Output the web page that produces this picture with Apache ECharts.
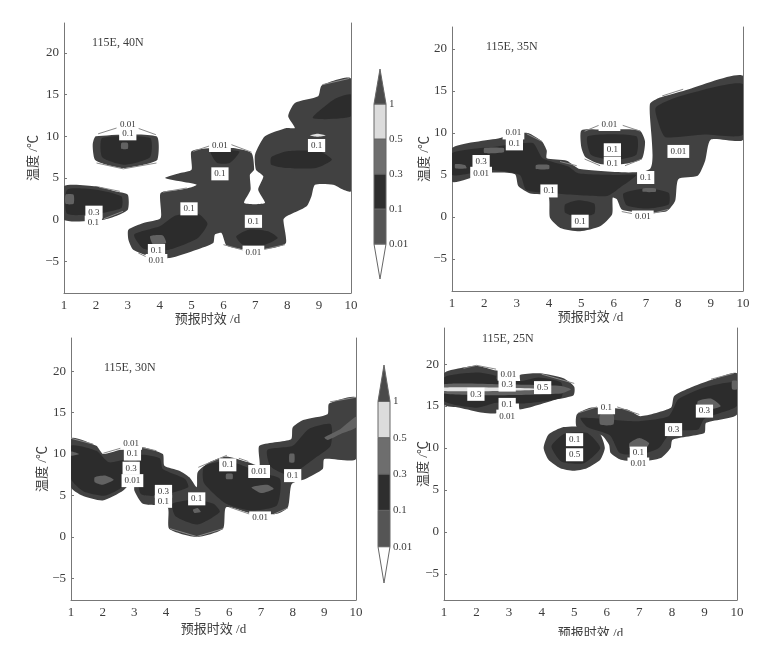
<!DOCTYPE html>
<html>
<head>
<meta charset="utf-8">
<script src="https://cdn.jsdelivr.net/npm/echarts@6/dist/echarts.min.js"></script>
<style>
  html, body { margin: 0; background: #fff; }
  #chart { width: 759px; height: 636px; filter: blur(0.7px); }
</style>
</head>
<body>
<div id="chart"></div>
<script>
const days = [1, 2, 3, 4, 5, 6, 7, 8, 9, 10]
const tempTicks = [-5, 0, 5, 10, 15, 20]
const barLevels = ['0.01', '0.1', '0.3', '0.5', '1']
const barTicks = [1, 2, 3, 4, 5]

// outlines are [day, temperature]
// 115E, 40N
const p40Base = [
  [[1,4],[2,4],[2.6,3.4],[3,3],[3,1.2],[2.6,0.4],[2.25,0],[1,0]],
  [[2,10],[3.9,10],[3.93,7.2],[3.49,6.6],[2.86,6.2],[2.34,6.6],[1.97,7.2],[1.9,9]],
  [[3.02,-1.2],[3.49,-0.4],[4.03,0.2],[4.03,3.2],[4.64,3.6],[5,3.9],[5.16,4.2],[4.64,4.6],[4.17,5],[4.64,5.6],[5,6],[5,8.2],[5.68,8.6],[6.31,8.6],[6.88,8],[6.96,6],[6.83,5.4],[6.85,3.6],[6.65,2],[7.3,2],[7.09,3.6],[7.25,5.2],[7.02,6],[6.99,7.8],[7.3,10],[7.98,11],[8.24,11],[8.03,12.4],[8.24,14],[8.97,14.8],[9.08,16.1],[10,16.9],[10,3.4],[9.76,3.6],[9.44,4.2],[8.87,4.2],[8.76,2.8],[8.61,1.6],[7.98,0.4],[7.88,0],[7.96,-2.8],[7.56,-3.4],[6.73,-3.6],[6.1,-3.1],[5.94,-1.6],[5.73,-1.8],[5.68,-2.8],[5.16,-3.6],[4.32,-4.6],[3.7,-4.4],[3.17,-3.6],[3.02,-2.4]]
]
const p40Dark = [
  [[1.1,3.6],[2,3.6],[2.8,2.8],[2.8,1.4],[2,0.7],[1.1,0.7]],
  [[2.2,9.8],[3.7,9.8],[3.7,7.5],[2.9,6.6],[2.2,7.5]],
  [[3.2,-1.8],[4,-0.8],[4.5,0.5],[5.2,0.7],[5.5,-0.5],[5.2,-2.2],[4.3,-3.6],[3.5,-3.5]],
  [[6.4,-2],[6.8,-1.2],[7.4,-1.4],[7.7,-2.2],[7.3,-3],[6.6,-3]],
  [[5.6,8.2],[6.5,8.2],[6.2,6.8],[5.8,6.8]],
  [[7.5,7.5],[8,8.2],[9,8.2],[9.4,7.2],[8.9,6.2],[8,6.2],[7.5,6.6]],
  [[8.8,12.2],[9.5,14.5],[10,15],[10,12.4]]
]
const p40Mid = [
  [[1.05,3],[1.3,3],[1.3,1.9],[1.05,1.9]],
  [[3.7,-2],[4.1,-1.9],[4.2,-2.8],[3.8,-3]],
  [[2.8,9.2],[3,9.2],[3,8.5],[2.8,8.5]]
]
const p40Light = [
  [[8.72,10.1],[8.95,10.3],[9.2,10.1],[8.95,9.95]]
]
const p40Arcs = [
  [[2.07,10.3],[2.65,11]], [[3.3,11],[3.88,10.2]], [[2.02,6.8],[2.86,6.1],[3.9,6.8]],
  [[2.1,3.9],[2.75,3.4]], [[2.25,0.1],[2.85,1]], [[3.33,-4],[3.6,-4.5]],
  [[5.05,8.2],[5.6,8.9]], [[6.25,9],[6.88,8.1]], [[4.1,3.3],[4.85,3.8]],
  [[6,-3],[6.67,-3.7]], [[7.25,-3.6],[7.93,-3]], [[9.1,16.2],[9.95,16.95]]
]
const p40Labels = [
  [3,11.4,'0.01'],[3,10.3,'0.1'],[5.89,8.9,'0.01'],[5.89,5.5,'0.1'],[4.92,1.3,'0.1'],[6.94,-0.2,'0.1'],
  [6.94,-3.9,'0.01'],[8.92,8.9,'0.1'],[1.94,0.9,'0.3'],[1.92,-0.3,'0.1'],[3.9,-3.7,'0.1'],[3.9,-4.9,'0.01']
]

// 115E, 35N
const p35Base = [
  [[1,8.2],[2.49,9.4],[2.8,9.9],[3.35,10],[3.78,9],[3.93,7.9],[3.93,7],[4.55,6.7],[4.96,5.7],[7.12,5.7],[7.12,13.4],[7.43,14.2],[8.15,15],[10,16.8],[10,9.2],[9,9.2],[8.83,6.7],[8.6,4.9],[8,4.5],[7.9,1.9],[7.64,0.7],[6.92,0.5],[6.25,0.9],[6.1,2.1],[5.97,2.3],[5.95,0.3],[5.58,-1.1],[4.96,-1.7],[4.35,-1.3],[4.03,-0.1],[3.98,2.5],[3.42,2.8],[3.05,3.7],[2.95,5.1],[2.29,5.3],[1.87,5],[1,4.2]],
  [[5,10.3],[5.6,10.4],[6.8,10.3],[6.97,9],[6.87,6.9],[6.3,6.3],[5.58,6.3],[5.13,7.1],[5,8.3]]
]
const p35Dark = [
  [[1,7.6],[2.4,8.4],[3.5,8.8],[3.8,7],[4.6,6],[4.9,5.2],[6,5],[6.7,5],[6.2,3.5],[5.8,2.5],[4.2,2.8],[3.3,3.2],[3.1,5],[2.2,5.6],[1,5]],
  [[7.3,13],[8,14.3],[10,15.8],[10,9.8],[8.8,9.8],[7.6,9.5],[7.4,11]],
  [[4.5,1.5],[4.9,2],[5.4,1.6],[5.4,0.4],[4.9,0],[4.5,0.5]],
  [[6.3,2.8],[7,3.4],[7.7,2.9],[7.7,1.5],[7,1],[6.4,1.4]],
  [[5.2,9.6],[6.7,9.6],[6.7,7.4],[6,6.8],[5.3,7.4]]
]
const p35Mid = [
  [[1.1,6.3],[1.4,6.2],[1.45,5.8],[1.1,5.8]],
  [[2,8.2],[2.6,8.2],[2.6,7.7],[2,7.6]],
  [[3.6,6.2],[4,6.2],[4,5.7],[3.6,5.7]],
  [[6.9,3.4],[7.3,3.4],[7.3,3],[6.9,3]]
]
const p35Light = []
const p35Arcs = [
  [[5.1,10.2],[5.6,11]], [[6.28,10.9],[6.83,10.2]], [[5.1,6.9],[5.58,6.1]], [[6.35,6.1],[6.87,6.9]],
  [[6.25,0.65],[6.7,0.3]], [[7.17,0.4],[7.69,0.9]], [[3.31,9.9],[3.78,9]], [[4.34,6.6],[4.86,6.1]], [[7.5,14.4],[8.15,15.2]]
]
const p35Labels = [
  [2.9,10,'0.01'],[2.93,8.7,'0.1'],[1.9,6.6,'0.3'],[1.9,5.2,'0.01'],[4,3.1,'0.1'],[4.96,-0.5,'0.1'],
  [5.87,11,'0.01'],[5.96,8,'0.1'],[5.96,6.4,'0.1'],[6.99,4.7,'0.1'],[6.9,0,'0.01'],[8,7.8,'0.01']
]

// 115E, 30N
const p30Base = [
  [[1,11.9],[1.8,11],[2.02,10],[2.65,10.6],[3.3,10.8],[3.9,10],[3.95,8.6],[4.42,8],[4.74,7.2],[4.97,6],[5,7.8],[5.37,9],[5.9,9.7],[6.6,9],[6.95,8.6],[6.95,11],[7.95,11.8],[8,13.2],[8.33,14.1],[9.1,14.8],[9.15,16.1],[10,16.8],[10,9.4],[9,9.4],[8.95,8.2],[8.4,7],[7.97,6.4],[7.85,3.6],[7.5,2.8],[6.75,2.8],[5.9,3.6],[5.8,1],[4.97,0],[4.1,1],[4.05,3.6],[3.27,4],[3,5.6],[3,7],[2.65,5.6],[2,4.4],[1.35,5],[1,6]]
]
const p30Dark = [
  [[1,11],[1.8,10.4],[2.2,9],[2.8,9.3],[2.8,6.6],[2.1,5],[1.4,5.5],[1,7]],
  [[3.1,9.8],[3.8,9.5],[3.9,8.2],[4.6,7],[4.7,6],[3.8,5],[3.2,5.2]],
  [[4.2,4],[4.9,4.5],[5.5,4],[5.7,3],[5,1.5],[4.3,2.5]],
  [[5.2,8.5],[5.9,9.2],[6.5,8.5],[6.9,7.8],[7.6,7],[7.5,3.8],[6.7,3.2],[5.9,4],[5.2,6.5]],
  [[7.2,10.5],[8,11],[8.5,13],[9.2,13.6],[9.2,11],[8.7,9.5],[7.9,7.5],[7.3,8.5]]
]
const p30Mid = [
  [[1.75,7.2],[2.1,7.4],[2.35,6.9],[2,6.3],[1.75,6.6]],
  [[1,10.3],[1.25,10],[1,9.8]],
  [[4.85,3.3],[5,3.5],[5.1,3],[4.9,2.9]],
  [[5.9,7.6],[6.1,7.6],[6.1,7],[5.9,7]],
  [[6.7,6],[7.2,6.3],[7.4,5.8],[7,5.3]],
  [[9,12],[9.5,13],[10,14.5],[10,13.2],[9.5,12.4],[9.1,11.7]],
  [[7.9,10],[8.05,10],[8.05,9],[7.9,9]]
]
const p30Light = []
const p30Arcs = [
  [[2.02,10.1],[2.65,10.8]], [[3.23,10.8],[3.7,10.4]], [[1,11.9],[1.7,11.2]],
  [[4.13,1],[4.97,0.05],[5.8,1]], [[5.02,8.4],[5.92,9.85]], [[6.3,9.5],[6.6,9.1]],
  [[6,3.6],[6.65,2.75]], [[7.4,2.75],[7.85,3.5]], [[9.18,16.3],[10,16.85]]
]
const p30Labels = [
  [2.9,11.3,'0.01'],[2.94,10,'0.1'],[2.9,8.3,'0.3'],[2.94,6.8,'0.01'],[3.92,5.5,'0.3'],[3.92,4.3,'0.1'],
  [4.97,4.6,'0.1'],[5.95,8.7,'0.1'],[6.94,7.9,'0.01'],[8,7.4,'0.1'],[6.97,2.3,'0.01']
]

// 115E, 25N
const p25Base = [
  [[1,18.9],[1.48,19.5],[2,19.8],[2.52,19.3],[2.72,19.1],[2.72,17.9],[3.33,17.9],[3.33,18.7],[3.95,18.9],[4.67,18.3],[5,17.3],[4.98,16.3],[4.47,15.8],[3.33,14.6],[3.28,15.8],[2.72,15.8],[2.67,14.2],[2.2,14.2],[1.48,14.8],[1,15.2]],
  [[5.08,14],[5.5,14.8],[6.63,14.6],[7.04,13.8],[7.97,14.8],[8.07,16.2],[8.58,17.2],[9.2,18.1],[10,18.9],[10,14],[9.05,13],[9,11.8],[8.02,11],[7.96,10],[7.66,8.8],[7.05,8.4],[6.43,8.6],[6.12,9.4],[6.07,10.4],[5.85,11.5],[5.08,12.5]],
  [[4.06,10],[4.21,11.6],[4.67,12.5],[5.39,12.5],[5.8,11.6],[5.94,10],[5.8,8.6],[5.39,7.6],[4.98,7.3],[4.57,7.6],[4.21,8.6]]
]
const p25Dark = [
  [[1,18.4],[2,19],[2.6,18.6],[2.6,18.2],[3.4,18],[3.9,18.4],[4.6,17.8],[4.6,16],[3.4,15.3],[2.6,15.4],[2,14.8],[1,15.6]],
  [[4.3,10.2],[4.7,11.7],[5.4,11.8],[5.8,10],[5.3,8.2],[4.6,8.4]],
  [[5.2,13.6],[6.9,13.2],[7.9,13.8],[8.2,15.8],[9,17.2],[10,17.8],[10,15],[9,13.5],[8.8,12.2],[8,12],[7.6,10],[7,9.2],[6.4,9.4],[6.1,11.5],[5.4,12.5]]
]
const p25Mid = [
  [[1,17.6],[2.7,17.6],[4.6,17.4],[4.9,17],[4.6,16.5],[2.7,16.3],[1,16.5]],
  [[5.8,14],[6.2,14],[6.2,12.8],[5.8,12.8]],
  [[6.7,10.6],[7,11.2],[7.3,10.6],[7.2,10],[6.7,10]],
  [[8.8,15.6],[9.2,15.9],[9.5,15],[9.2,14.6],[8.8,14.6]],
  [[9.85,18],[10,18],[10,17],[9.85,17]]
]
const p25Light = [
  [[1,17.2],[2.7,17.2],[4.3,17],[2.7,16.8],[1,16.8]]
]
const p25Arcs = [
  [[5.13,14.2],[5.7,14.9]], [[6.32,14.9],[7,14]], [[4,18.8],[5,17.7]],
  [[1.6,19.5],[2,19.85],[2.6,19.4]], [[9.2,18.2],[9.9,18.9]]
]
const p25Labels = [
  [2.98,18.8,'0.01'],[2.94,17.5,'0.3'],[2.94,15.2,'0.1'],[2.94,13.8,'0.01'],[1.98,16.4,'0.3'],[4.03,17.2,'0.5'],
  [5.99,14.8,'0.1'],[5.01,11,'0.1'],[5.01,9.2,'0.5'],[6.97,9.4,'0.1'],[6.97,8.1,'0.01'],[8.05,12.2,'0.3'],[9,14.4,'0.3']
]

const baseColor = '#414141'
const darkColor = '#2c2c2c'
const midColor = '#626262'
const lightColor = '#e2e2e2'
const arcColor = '#8a8a8a'
const textColor = '#3c3c3c'
const serif = '"Liberation Serif", "Noto Sans CJK SC", serif'

// colour bar, bottom to top: lower tip, 0.01-0.1, 0.1-0.3, 0.3-0.5, 0.5-1, upper tip
const barColors = ['#fff', '#555', '#2e2e2e', '#6e6e6e', '#dcdcdc', '#4a4a4a']
const barShapes = [
  [[0.5,0],[0,1],[1,1]],
  [[0,1],[0,2],[1,2],[1,1]],
  [[0,2],[0,3],[1,3],[1,2]],
  [[0,3],[0,4],[1,4],[1,3]],
  [[0,4],[0,5],[1,5],[1,4]],
  [[0,5],[0.5,6],[1,5]]
]

const panels = [
  { title: '115E, 40N', titleX: 92, titleY: 37, left: 64, right: 351, top: 23, bottom: 293, min: -8.8, max: 23.6, yGap: 24, xGap: 18, xPad: 0,
    base: p40Base, dark: p40Dark, mid: p40Mid, light: p40Light, arcs: p40Arcs, labels: p40Labels },
  { title: '115E, 35N', titleX: 486, titleY: 41, left: 452, right: 743, top: 27, bottom: 291, min: -8.8, max: 22.6, yGap: 21, xGap: 16, xPad: 14,
    base: p35Base, dark: p35Dark, mid: p35Mid, light: p35Light, arcs: p35Arcs, labels: p35Labels },
  { title: '115E, 30N', titleX: 104, titleY: 362, left: 71, right: 356, top: 338, bottom: 600, min: -7.6, max: 24, yGap: 22, xGap: 23, xPad: 0,
    base: p30Base, dark: p30Dark, mid: p30Mid, light: p30Light, arcs: p30Arcs, labels: p30Labels },
  { title: '115E, 25N', titleX: 482, titleY: 333, left: 444, right: 737, top: 328, bottom: 600, min: -8.1, max: 24.3, yGap: 14, xGap: 27, xPad: 0,
    base: p25Base, dark: p25Dark, mid: p25Mid, light: p25Light, arcs: p25Arcs, labels: p25Labels }
]

const grids = []
const xAxes = []
const yAxes = []
const titles = []
const series = []

const polygonSeries = (polys, color, xi, yi) => ({
  type: 'custom',
  xAxisIndex: xi,
  yAxisIndex: yi,
  silent: true,
  clip: true,
  data: polys.map(p => p[0]),
  encode: { x: 0, y: 1 },
  renderItem: (params, api) => ({
    type: 'polygon',
    shape: { points: polys[params.dataIndex].map(p => api.coord(p)), smooth: 0.2 },
    style: { fill: color }
  })
})

panels.forEach((p) => {
  const xi = xAxes.length
  const yi = yAxes.length
  grids.push({ left: p.left, top: p.top, width: p.right - p.left, height: p.bottom - p.top, outerBoundsMode: 'none' })
  titles.push({
    text: p.title, left: p.titleX, top: p.titleY, padding: 0,
    textStyle: { fontFamily: serif, fontSize: 12, fontWeight: 'normal', color: textColor }
  })
  xAxes.push({
    type: 'value', gridIndex: grids.length - 1, min: days[0], max: days[days.length - 1], interval: 1,
    name: '预报时效 /d', nameLocation: 'middle', nameGap: p.xGap,
    nameTextStyle: { fontFamily: serif, fontSize: 13, color: textColor, padding: [0, p.xPad, 0, 0] },
    axisLine: { onZero: false, lineStyle: { color: '#777' } },
    axisTick: { show: false },
    axisLabel: { fontFamily: serif, fontSize: 13, color: textColor, margin: 6 },
    splitLine: { show: false }
  })
  yAxes.push({
    type: 'value', gridIndex: grids.length - 1, min: p.min, max: p.max,
    name: '温度 /℃', nameLocation: 'middle', nameGap: p.yGap, nameRotate: 90, nameMoveOverlap: false,
    nameTextStyle: { fontFamily: serif, fontSize: 13, color: textColor },
    axisLine: { show: true, onZero: false, lineStyle: { color: '#777' } },
    axisTick: { show: true, inside: true, length: 3, customValues: tempTicks, lineStyle: { color: '#777' } },
    axisLabel: { customValues: tempTicks, fontFamily: serif, fontSize: 13, color: textColor, margin: 5,
      formatter: v => String(v).replace('-', '−') },
    splitLine: { show: false }
  })
  // frame line on the right hand side
  yAxes.push({
    type: 'value', gridIndex: grids.length - 1, position: 'right', min: p.min, max: p.max,
    axisLine: { show: true, onZero: false, lineStyle: { color: '#777' } },
    axisTick: { show: false }, axisLabel: { show: false }, splitLine: { show: false }
  })

  series.push(polygonSeries(p.base, baseColor, xi, yi))
  series.push(polygonSeries(p.dark, darkColor, xi, yi))
  series.push(polygonSeries(p.mid, midColor, xi, yi))
  series.push(polygonSeries(p.light, lightColor, xi, yi))
  series.push({
    type: 'custom', xAxisIndex: xi, yAxisIndex: yi, silent: true, clip: false,
    data: p.arcs.map(a => a[0]),
    encode: { x: 0, y: 1 },
    renderItem: (params, api) => ({
      type: 'polyline',
      shape: { points: p.arcs[params.dataIndex].map(c => api.coord(c)) },
      style: { stroke: arcColor, lineWidth: 1, fill: 'none' }
    })
  })
  series.push({
    type: 'custom', xAxisIndex: xi, yAxisIndex: yi, silent: true, clip: false,
    data: p.labels,
    encode: { x: 0, y: 1 },
    renderItem: (params, api) => {
      const pos = api.coord([api.value(0), api.value(1)])
      return {
        type: 'text',
        x: pos[0],
        y: pos[1],
        style: {
          text: p.labels[params.dataIndex][2],
          fontFamily: serif,
          fontSize: 9,
          fill: '#333',
          align: 'center',
          verticalAlign: 'middle',
          backgroundColor: '#fff',
          padding: [2, 3]
        }
      }
    }
  })
})

// two colour bars, 0 = lower tip, 6 = upper tip
const barGrids = [
  { left: 374, top: 69, width: 12, height: 210, outerBoundsMode: 'none' },
  { left: 378, top: 365, width: 12, height: 218, outerBoundsMode: 'none' }
]
barGrids.forEach((g) => {
  const xi = xAxes.length
  const yi = yAxes.length
  grids.push(g)
  xAxes.push({ type: 'value', gridIndex: grids.length - 1, min: 0, max: 1, show: false })
  yAxes.push({
    type: 'value', gridIndex: grids.length - 1, position: 'right', min: 0, max: 6,
    axisLine: { show: false }, axisTick: { show: false }, splitLine: { show: false },
    axisLabel: { customValues: barTicks, fontFamily: serif, fontSize: 11, color: textColor, margin: 3,
      formatter: v => barLevels[v - 1] }
  })
  series.push({
    type: 'custom', xAxisIndex: xi, yAxisIndex: yi, silent: true, clip: false,
    data: barShapes.map(s => s[0]),
    encode: { x: 0, y: 1 },
    renderItem: (params, api) => ({
      type: 'polygon',
      shape: { points: barShapes[params.dataIndex].map(c => api.coord(c)) },
      style: { fill: barColors[params.dataIndex], stroke: '#666', lineWidth: 1 }
    })
  })
})

const chart = echarts.init(document.getElementById('chart'))
chart.setOption({
  animation: false,
  backgroundColor: '#fff',
  title: titles,
  grid: grids,
  xAxis: xAxes,
  yAxis: yAxes,
  series: series
})
</script>
</body>
</html>
